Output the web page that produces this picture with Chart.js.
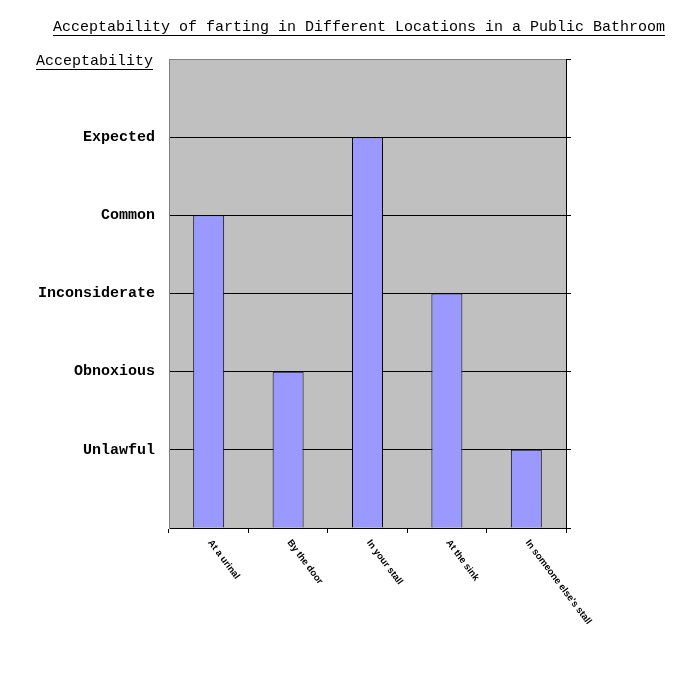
<!DOCTYPE html>
<html>
<head>
<meta charset="utf-8">
<script src="https://cdn.jsdelivr.net/npm/chart.js@4"></script>
<style>
  body { margin: 0; background: #fff; }
</style>
</head>
<body>
<canvas id="fartChart" width="700" height="700"></canvas>
<script>
const chartTitle = 'Acceptability of farting in Different Locations in a Public Bathroom';
const axisTitle = 'Acceptability';
const locations = ['At a urinal', 'By the door', 'In your stall', 'At the sink', "In someone else's stall"];
const acceptability = [4, 2, 5, 3, 1];
const levelNames = ['', 'Unlawful', 'Obnoxious', 'Inconsiderate', 'Common', 'Expected', ''];

const mono = '"Liberation Mono", "Courier New", monospace';

// grey plot background + underlined titles + slanted category labels
const decorations = {
    id: 'decorations',
    beforeDraw(chart) {
        const a = chart.chartArea;
        const c = chart.ctx;
        c.save();
        c.fillStyle = '#c0c0c0';
        c.fillRect(a.left, a.top, a.right - a.left, a.bottom - a.top);
        c.restore();
    },
    afterDraw(chart) {
        const c = chart.ctx;
        c.save();
        c.fillStyle = '#000';
        c.strokeStyle = '#000';
        c.lineWidth = 1;
        c.font = '15px ' + mono;
        c.textBaseline = 'middle';
        c.textAlign = 'left';

        let w = c.measureText(chartTitle).width;
        c.fillText(chartTitle, 53, 27);
        c.beginPath();
        c.moveTo(53, 35.5);
        c.lineTo(53 + w, 35.5);
        c.stroke();

        w = c.measureText(axisTitle).width;
        c.fillText(axisTitle, 36, 61);
        c.beginPath();
        c.moveTo(36, 69.5);
        c.lineTo(36 + w, 69.5);
        c.stroke();

        const x = chart.scales.x;
        c.font = 'bold 9.5px "Liberation Sans", Arial, sans-serif';
        locations.forEach((name, i) => {
            c.save();
            c.translate(x.getPixelForValue(i) + 1, 541);
            c.rotate(53 * Math.PI / 180);
            c.fillText(name, 0, 0);
            c.restore();
        });
        c.restore();
    }
};

new Chart(document.getElementById('fartChart').getContext('2d'), {
    type: 'bar',
    data: {
        labels: locations,
        datasets: [{
            data: acceptability,
            backgroundColor: '#9999ff',
            borderColor: '#000',
            borderWidth: 1,
            categoryPercentage: 1,
            barPercentage: 0.39,
            yAxisID: 'y'
        }]
    },
    options: {
        responsive: false,
        animation: false,
        layout: { padding: { top: 59, left: 0, right: 128, bottom: 162 } },
        plugins: {
            legend: { display: false },
            title: { display: false },
            tooltip: { enabled: false }
        },
        scales: {
            x: {
                grid: {
                    offset: true,
                    drawOnChartArea: false,
                    drawTicks: true,
                    tickLength: 5,
                    color: '#000'
                },
                border: { color: '#000', width: 1 },
                ticks: { display: false },
                afterFit(s) { s.height = 10; }
            },
            y: {
                position: 'left',
                min: 0,
                max: 6,
                grid: {
                    drawTicks: false,
                    color: ctx => ctx.tick.value === 6 ? '#808080' : (ctx.tick.value === 0 ? 'rgba(0,0,0,0)' : '#000')
                },
                border: { color: '#808080', width: 1 },
                ticks: {
                    stepSize: 1,
                    padding: 14,
                    color: '#000',
                    font: { family: mono, size: 15, weight: 'bold' },
                    callback: v => levelNames[v]
                },
                afterFit(s) { s.width = 169; }
            },
            y2: {
                position: 'right',
                min: 0,
                max: 6,
                grid: {
                    drawOnChartArea: false,
                    drawTicks: true,
                    tickLength: 5,
                    color: '#000'
                },
                border: { color: '#000', width: 1 },
                ticks: { stepSize: 1, padding: 0, callback: () => '' },
                afterFit(s) { s.width = 6; }
            }
        }
    },
    plugins: [decorations]
});
</script>
</body>
</html>
